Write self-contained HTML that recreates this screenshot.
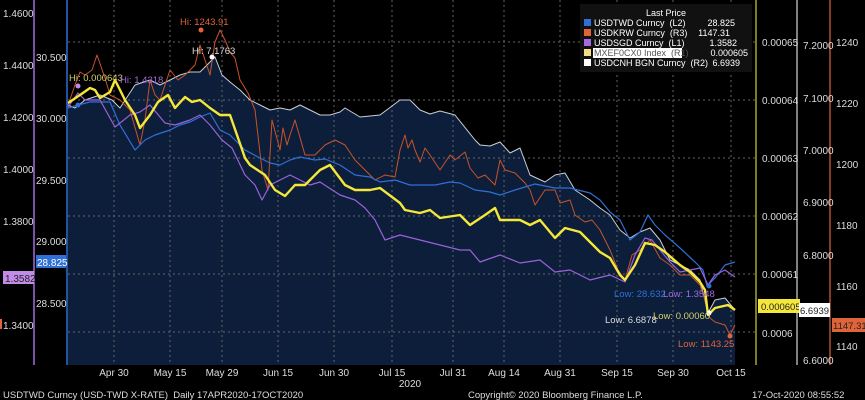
<!DOCTYPE html>
<html><head><style>
body{margin:0;background:#000;}
svg{display:block;font-family:"Liberation Sans",sans-serif;}
text{white-space:pre;}
</style></head><body>
<svg width="865" height="400" viewBox="0 0 865 400" xmlns="http://www.w3.org/2000/svg">
<rect width="865" height="400" fill="#000"/>
<path fill="#0c1e3a" d="M68,365 L68,105 75,108 85,100 100,95 112,100 120,108 135,85 150,80 160,85 170,80 180,75 190,72 200,72 210,62 215,57 222,75 230,82 240,90 250,100 260,105 270,110 280,108 290,110 300,105 310,110 320,115 330,115 340,112 345,108 360,117 380,115 400,100 410,100 420,110 430,114 440,111 455,115 475,140 480,145 490,146 500,142 510,153 520,148 530,175 545,182 555,175 565,173 575,190 590,200 600,208 610,215 620,230 630,238 640,232 650,228 660,240 670,260 680,265 690,270 700,280 708,313 715,300 725,298 735,310 L735,365 Z"/>
<g stroke="#666" stroke-dasharray="2,3" stroke-width="1">
<line x1="68" y1="42" x2="755" y2="42"/><line x1="68" y1="100" x2="755" y2="100"/><line x1="68" y1="158" x2="755" y2="158"/><line x1="68" y1="216" x2="755" y2="216"/><line x1="68" y1="274" x2="755" y2="274"/><line x1="68" y1="332" x2="755" y2="332"/>
<line x1="114" y1="0" x2="114" y2="365"/><line x1="170" y1="0" x2="170" y2="365"/><line x1="222" y1="0" x2="222" y2="365"/><line x1="278" y1="0" x2="278" y2="365"/><line x1="334" y1="0" x2="334" y2="365"/><line x1="392" y1="0" x2="392" y2="365"/><line x1="453" y1="0" x2="453" y2="365"/><line x1="504" y1="0" x2="504" y2="365"/><line x1="560" y1="0" x2="560" y2="365"/><line x1="617" y1="0" x2="617" y2="365"/><line x1="673" y1="0" x2="673" y2="365"/><line x1="731" y1="0" x2="731" y2="365"/>
</g>
<g fill="none" stroke-linejoin="round">
<polyline stroke="#c9cfd6" stroke-width="1" points="68,105 75,108 85,100 100,95 112,100 120,108 135,85 150,80 160,85 170,80 180,75 190,72 200,72 210,62 215,57 222,75 230,82 240,90 250,100 260,105 270,110 280,108 290,110 300,105 310,110 320,115 330,115 340,112 345,108 360,117 380,115 400,100 410,100 420,110 430,114 440,111 455,115 475,140 480,145 490,146 500,142 510,153 520,148 530,175 545,182 555,175 565,173 575,190 590,200 600,208 610,215 620,230 630,238 640,232 650,228 660,240 670,260 680,265 690,270 700,280 708,313 715,300 725,298 735,310"/>
<polyline stroke="#c8532a" stroke-width="1" points="68,105 75,85 80,72 85,75 92,70 97,55 105,78 110,95 120,100 130,110 140,145 145,120 150,80 155,95 160,100 170,70 178,80 185,75 195,65 200,45 205,60 210,75 215,42 220,30 225,40 230,52 235,58 240,80 248,93 255,110 262,170 268,190 272,120 280,150 283,128 287,145 290,135 295,120 305,155 315,155 325,145 335,140 345,145 355,160 370,175 375,180 385,175 395,177 400,150 405,135 408,148 412,140 415,150 420,162 425,148 430,155 440,170 450,155 455,160 465,152 470,168 478,178 485,175 495,185 500,160 505,170 515,173 525,183 530,190 535,205 545,190 555,190 560,203 570,200 575,215 585,222 592,220 600,230 610,250 618,270 625,280 632,255 640,250 650,240 660,258 670,265 680,275 690,275 700,285 705,300 710,318 715,322 725,325 730,335 735,325"/>
<polyline stroke="#2f6fd6" stroke-width="1.2" points="68,108 78,105 90,102 110,102 120,125 135,150 145,140 155,135 170,130 180,125 190,122 200,117 210,113 220,130 230,135 245,150 260,158 270,163 280,165 290,160 300,157 315,160 325,159 340,165 355,175 370,177 380,182 395,180 410,185 425,185 435,185 450,182 460,183 475,190 490,192 500,195 515,190 535,184 555,188 570,188 590,193 600,200 610,212 620,220 630,240 640,232 648,215 655,225 665,235 680,248 695,262 703,270 707,286 715,278 725,265 735,262"/>
<polyline stroke="#9a62d9" stroke-width="1.2" points="68,107 78,93 85,100 100,100 115,127 130,115 140,112 150,105 165,123 175,125 190,120 200,115 210,125 222,140 232,148 245,175 255,185 262,200 270,185 280,180 290,175 300,180 310,185 320,182 340,195 355,200 365,208 375,220 385,240 400,235 420,240 440,245 460,250 470,250 480,262 500,255 520,263 540,260 555,272 570,270 590,280 610,275 625,282 635,255 645,238 652,240 660,250 670,262 680,272 700,268 708,285 715,275 725,270 735,277"/>
<polyline stroke="#f5e73a" stroke-width="2.4" points="68,103 80,95 90,88 95,90 100,98 110,92 115,80 125,100 135,115 140,128 150,115 158,102 168,95 175,108 185,97 192,102 200,100 210,108 220,115 230,115 245,158 250,165 265,175 275,190 285,196 295,185 305,185 320,170 330,165 345,185 355,190 370,190 380,188 400,203 405,210 420,213 430,210 440,218 460,215 470,225 485,215 495,208 500,220 520,220 530,225 540,220 555,238 565,228 580,232 600,252 610,258 620,275 625,280 635,265 645,243 655,245 665,252 680,265 690,272 700,282 705,290 708,315 715,308 728,305 735,310"/>
</g>
<g font-size="9.5">
<circle cx="201" cy="30" r="2.5" fill="#e0643a"/><text x="180" y="25" fill="#e0643a">Hi: 1243.91</text>
<circle cx="212" cy="57" r="2.5" fill="#fff"/><text x="192" y="54" fill="#ddd">Hi: 7.1763</text>
<circle cx="78" cy="86" r="2.5" fill="#c28be8"/><text x="69" y="81" fill="#d6cf6a">Hi: 0.000643</text><text x="120" y="83" fill="#a36be0">Hi: 1.4318</text>
<circle cx="78" cy="105" r="2.5" fill="#2f6fd6"/>
<circle cx="709" cy="286" r="2.5" fill="#2f6fd6"/><text x="614" y="297" fill="#2f6fd6">Low: 28.632</text><text x="663" y="297" fill="#a36be0">Low: 1.3548</text>
<circle cx="709" cy="313" r="2.5" fill="#fff"/><text x="605" y="323" fill="#ddd">Low: 6.6878</text><text x="653" y="319" fill="#d6cf6a">Low: 0.00060</text>
<circle cx="730" cy="336" r="2.5" fill="#e0643a"/><text x="678" y="347" fill="#e0643a">Low: 1143.25</text>
</g>
<rect x="580" y="4" width="172" height="68" fill="#111"/>
<g font-size="9" fill="#fff">
<text x="646" y="16">Last Price</text>
<rect x="584" y="19" width="7" height="7" fill="#2f6fd6"/><text x="594" y="26">USDTWD Curncy  (L2)</text><text x="735" y="26" text-anchor="end">28.825</text>
<rect x="584" y="29" width="7" height="7" fill="#e0643a"/><text x="594" y="36">USDKRW Curncy  (R3)</text><text x="730" y="36" text-anchor="end">1147.31</text>
<rect x="584" y="39" width="7" height="7" fill="#a36be0"/><text x="594" y="46">USDSGD Curncy  (L1)</text><text x="737" y="46" text-anchor="end">1.3582</text>
<rect x="584" y="49" width="7" height="7" fill="#f0e080"/><rect x="593" y="48" width="89" height="10" fill="#fff"/><text x="594" y="56" fill="#555">MXEF0CX0 Index  (R1)</text><text x="748" y="56" text-anchor="end">0.000605</text>
<rect x="584" y="59" width="7" height="7" fill="#fff"/><text x="594" y="66">USDCNH BGN Curncy  (R2)</text><text x="740" y="66" text-anchor="end">6.6939</text>
</g>
<line x1="34" y1="0" x2="34" y2="365" stroke="#a36be0" stroke-width="1.5"/>
<line x1="67" y1="0" x2="67" y2="365" stroke="#2f6fd6" stroke-width="1.5"/>
<g font-size="10" fill="#ddd">
<text x="3" y="17">1.4600</text><text x="3" y="69">1.4400</text><text x="3" y="121">1.4200</text><text x="3" y="173">1.4000</text><text x="3" y="225">1.3800</text><text x="3" y="329">1.3400</text>
<text x="36" y="61">30.500</text><text x="36" y="122">30.000</text><text x="36" y="184">29.500</text><text x="36" y="245">29.000</text><text x="36" y="307">28.500</text>
</g>
<rect x="36" y="255" width="30" height="13" fill="#2f6fd6"/><text x="37" y="266" font-size="10" fill="#fff">28.825</text>
<rect x="3" y="271" width="31" height="13" fill="#c28be8"/><text x="5" y="282" font-size="10" fill="#222">1.3582</text>
<rect x="0" y="319" width="2" height="10" fill="#e0643a"/>
<line x1="756" y1="0" x2="756" y2="365" stroke="#d6cf3a" stroke-width="1.2"/>
<line x1="797" y1="0" x2="797" y2="365" stroke="#aaa" stroke-width="1.5"/>
<line x1="830" y1="0" x2="830" y2="365" stroke="#e0643a" stroke-width="1.2"/>
<g font-size="10" fill="#ddd">
<text x="762" y="46">0.00065</text><text x="762" y="104">0.00064</text><text x="762" y="162">0.00063</text><text x="762" y="220">0.00062</text><text x="762" y="278">0.00061</text><text x="762" y="337">0.0006</text>
<text x="803" y="49">7.2000</text><text x="803" y="102">7.1000</text><text x="803" y="154">7.0000</text><text x="803" y="206">6.9000</text><text x="803" y="259">6.8000</text><text x="803" y="364">6.6000</text>
<text x="836" y="46">1240</text><text x="836" y="107">1220</text><text x="836" y="168">1200</text><text x="836" y="229">1180</text><text x="836" y="290">1160</text><text x="836" y="350">1140</text>
</g>
<rect x="758" y="299" width="42" height="14" fill="#f5e73a"/><text x="761" y="310" font-size="9.5" fill="#222">0.000605</text>
<rect x="799" y="303" width="31" height="14" fill="#fff"/><text x="800" y="314" font-size="9.5" fill="#222">6.6939</text>
<rect x="832" y="318" width="33" height="14" fill="#e0643a"/><text x="833" y="329" font-size="9.5" fill="#222">1147.31</text>
<g font-size="10" fill="#ddd" text-anchor="middle">
<text x="114" y="376">Apr 30</text><text x="170" y="376">May 15</text><text x="222" y="376">May 29</text><text x="278" y="376">Jun 15</text><text x="334" y="376">Jun 30</text><text x="392" y="376">Jul 15</text><text x="453" y="376">Jul 31</text><text x="504" y="376">Aug 14</text><text x="560" y="376">Aug 31</text><text x="617" y="376">Sep 15</text><text x="673" y="376">Sep 30</text><text x="731" y="376">Oct 15</text>
<text x="410" y="387">2020</text>
</g>
<g font-size="9.5" fill="#ddd">
<text x="3" y="398">USDTWD Curncy (USD-TWD X-RATE)  Daily 17APR2020-17OCT2020</text>
<text x="468" y="398">Copyright© 2020 Bloomberg Finance L.P.</text>
<text x="752" y="398">17-Oct-2020 08:55:52</text>
</g>
</svg>
</body></html>
